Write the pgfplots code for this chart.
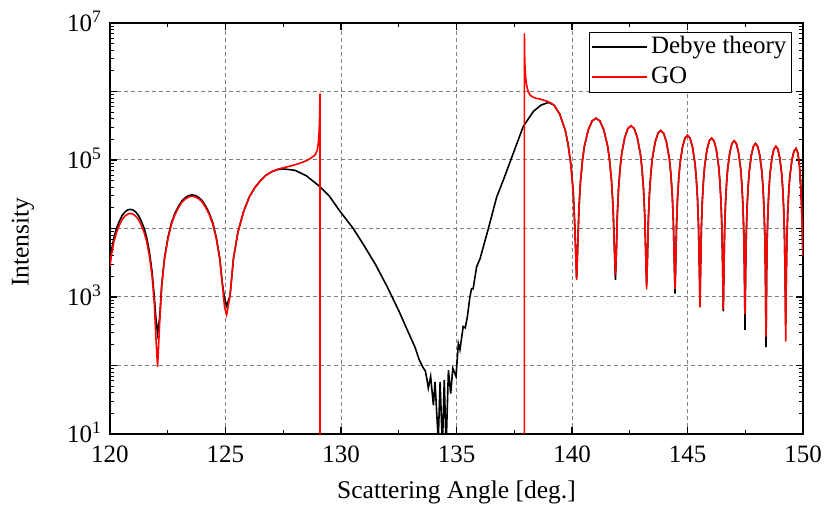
\documentclass[border=0pt]{standalone}
\usepackage{fontspec}
\setmainfont{Liberation Serif}
\usepackage{pgfplots}
\usepackage{pgfplotstable}
\pgfplotsset{compat=1.18}

% x = scattering angle, ly = log10(intensity)
\pgfplotstableread{
x ly
120.000 3.47
120.054 3.66
120.172 3.87
120.290 4.01
120.408 4.11
120.526 4.19
120.644 4.24
120.762 4.27
120.880 4.28
120.998 4.27
121.116 4.24
121.234 4.19
121.352 4.11
121.470 4.01
121.588 3.87
121.706 3.66
121.824 3.36
121.918 3.00
121.989 2.68
122.060 2.47
122.150 2.70
122.239 3.18
122.359 3.57
122.509 3.87
122.658 4.08
122.808 4.22
122.957 4.32
123.107 4.40
123.256 4.45
123.406 4.48
123.555 4.49
123.705 4.48
123.854 4.45
124.004 4.40
124.153 4.32
124.303 4.22
124.452 4.08
124.602 3.87
124.751 3.57
124.871 3.18
124.960 2.98
125.050 2.87
125.197 3.02
125.344 3.56
125.540 3.95
125.785 4.25
126.030 4.46
126.275 4.60
126.520 4.70
126.765 4.78
127.010 4.83
127.255 4.86
127.500 4.87
128.000 4.85
128.500 4.77
129.090 4.61
129.500 4.47
129.960 4.25
130.530 4.00
131.000 3.75
131.500 3.47
132.000 3.15
132.500 2.80
133.000 2.42
133.200 2.27
133.390 2.08
133.550 1.97
133.650 1.92
133.720 1.80
133.780 1.67
133.880 1.84
134.000 1.42
134.070 1.76
134.210 0.90
134.290 1.76
134.390 0.80
134.470 1.79
134.550 0.80
134.650 1.93
134.750 1.59
134.840 1.96
134.980 1.84
135.080 2.32
135.150 2.23
135.290 2.57
135.380 2.55
135.470 2.71
135.580 3.00
135.650 3.12
135.720 3.12
135.870 3.44
136.020 3.56
136.200 3.78
136.380 4.00
136.740 4.46
137.030 4.71
137.460 5.10
137.890 5.49
138.330 5.71
138.650 5.80
138.980 5.84
139.224 5.80
139.468 5.67
139.712 5.43
139.834 5.22
139.956 4.92
140.054 4.53
140.127 3.99
140.200 3.27
140.250 3.76
140.301 4.30
140.368 4.69
140.452 4.99
140.536 5.20
140.704 5.44
140.872 5.57
141.040 5.61
141.208 5.57
141.376 5.44
141.544 5.20
141.628 4.99
141.712 4.69
141.779 4.30
141.830 3.76
141.880 3.25
141.920 3.65
141.961 4.19
142.015 4.58
142.083 4.88
142.150 5.09
142.285 5.33
142.420 5.46
142.555 5.50
142.690 5.46
142.825 5.33
142.960 5.09
143.028 4.88
143.095 4.58
143.149 4.19
143.190 3.65
143.230 3.18
143.267 3.58
143.304 4.12
143.353 4.51
143.415 4.81
143.476 5.02
143.599 5.26
143.722 5.39
143.845 5.43
143.968 5.39
144.091 5.26
144.214 5.02
144.276 4.81
144.337 4.51
144.386 4.12
144.423 3.58
144.460 3.05
144.492 3.51
144.525 4.05
144.568 4.44
144.622 4.74
144.676 4.95
144.784 5.19
144.892 5.32
145.000 5.36
145.108 5.32
145.216 5.19
145.324 4.95
145.378 4.74
145.432 4.44
145.475 4.05
145.508 3.51
145.540 2.95
145.570 3.47
145.601 4.01
145.641 4.40
145.692 4.70
145.742 4.91
145.843 5.15
145.944 5.28
146.045 5.32
146.146 5.28
146.247 5.15
146.348 4.91
146.399 4.70
146.449 4.40
146.489 4.01
146.520 3.47
146.550 2.79
146.578 3.43
146.606 3.97
146.644 4.36
146.691 4.66
146.738 4.87
146.832 5.11
146.926 5.24
147.020 5.28
147.114 5.24
147.208 5.11
147.302 4.87
147.349 4.66
147.396 4.36
147.434 3.97
147.462 3.43
147.490 2.52
147.517 3.39
147.545 3.93
147.581 4.32
147.627 4.62
147.672 4.83
147.763 5.07
147.854 5.20
147.945 5.24
148.036 5.20
148.127 5.07
148.218 4.83
148.264 4.62
148.309 4.32
148.345 3.93
148.373 3.39
148.400 2.27
148.426 3.35
148.451 3.89
148.485 4.28
148.528 4.58
148.570 4.79
148.655 5.03
148.740 5.16
148.825 5.20
148.910 5.16
148.995 5.03
149.080 4.79
149.123 4.58
149.165 4.28
149.199 3.89
149.225 3.35
149.250 2.60
149.277 3.32
149.304 3.86
149.340 4.25
149.385 4.55
149.430 4.76
149.520 5.00
149.610 5.13
149.700 5.17
149.780 5.10
149.850 4.90
149.900 4.62
149.940 4.32
149.970 3.95
150.000 3.60
}\debye

\pgfplotstableread{
x ly
120.000 3.45
120.054 3.60
120.172 3.81
120.290 3.95
120.408 4.05
120.526 4.13
120.644 4.18
120.762 4.21
120.880 4.22
120.998 4.21
121.116 4.18
121.234 4.13
121.352 4.05
121.470 3.95
121.588 3.81
121.706 3.60
121.824 3.30
121.918 2.91
121.989 2.40
122.060 1.98
122.150 2.62
122.239 3.16
122.359 3.55
122.509 3.85
122.658 4.06
122.808 4.20
122.957 4.30
123.107 4.38
123.256 4.43
123.406 4.46
123.555 4.47
123.705 4.46
123.854 4.43
124.004 4.38
124.153 4.30
124.303 4.20
124.452 4.06
124.602 3.85
124.751 3.55
124.871 3.16
124.960 2.85
125.050 2.74
125.197 3.02
125.344 3.56
125.540 3.95
125.785 4.25
126.030 4.46
126.275 4.60
126.520 4.70
126.765 4.78
127.010 4.83
127.300 4.87
127.790 4.91
128.200 4.95
128.510 4.99
128.700 5.03
128.870 5.07
128.970 5.14
129.020 5.25
129.050 5.40
129.070 5.58
129.080 5.75
129.090 5.97
129.090 0.50
}\goleft

\pgfplotstableread{
x ly
137.940 0.50
137.940 6.85
137.945 6.60
137.960 6.40
137.990 6.22
138.030 6.10
138.100 6.00
138.180 5.95
138.300 5.92
138.450 5.90
138.610 5.89
138.800 5.87
138.980 5.85
139.100 5.83
139.224 5.80
139.468 5.67
139.712 5.43
139.834 5.22
139.956 4.92
140.054 4.53
140.127 3.99
140.200 3.25
140.250 3.76
140.301 4.30
140.368 4.69
140.452 4.99
140.536 5.20
140.704 5.44
140.872 5.57
141.040 5.61
141.208 5.57
141.376 5.44
141.544 5.20
141.628 4.99
141.712 4.69
141.779 4.30
141.830 3.76
141.880 3.32
141.920 3.65
141.961 4.19
142.015 4.58
142.083 4.88
142.150 5.09
142.285 5.33
142.420 5.46
142.555 5.50
142.690 5.46
142.825 5.33
142.960 5.09
143.028 4.88
143.095 4.58
143.149 4.19
143.190 3.65
143.230 3.11
143.267 3.58
143.304 4.12
143.353 4.51
143.415 4.81
143.476 5.02
143.599 5.26
143.722 5.39
143.845 5.43
143.968 5.39
144.091 5.26
144.214 5.02
144.276 4.81
144.337 4.51
144.386 4.12
144.423 3.58
144.460 3.12
144.492 3.51
144.525 4.05
144.568 4.44
144.622 4.74
144.676 4.95
144.784 5.19
144.892 5.32
145.000 5.36
145.108 5.32
145.216 5.19
145.324 4.95
145.378 4.74
145.432 4.44
145.475 4.05
145.508 3.51
145.540 2.85
145.570 3.47
145.601 4.01
145.641 4.40
145.692 4.70
145.742 4.91
145.843 5.15
145.944 5.28
146.045 5.32
146.146 5.28
146.247 5.15
146.348 4.91
146.399 4.70
146.449 4.40
146.489 4.01
146.520 3.47
146.550 2.82
146.578 3.43
146.606 3.97
146.644 4.36
146.691 4.66
146.738 4.87
146.832 5.11
146.926 5.24
147.020 5.28
147.114 5.24
147.208 5.11
147.302 4.87
147.349 4.66
147.396 4.36
147.434 3.97
147.462 3.43
147.490 2.75
147.517 3.39
147.545 3.93
147.581 4.32
147.627 4.62
147.672 4.83
147.763 5.07
147.854 5.20
147.945 5.24
148.036 5.20
148.127 5.07
148.218 4.83
148.264 4.62
148.309 4.32
148.345 3.93
148.373 3.39
148.400 2.42
148.426 3.35
148.451 3.89
148.485 4.28
148.528 4.58
148.570 4.79
148.655 5.03
148.740 5.16
148.825 5.20
148.910 5.16
148.995 5.03
149.080 4.79
149.123 4.58
149.165 4.28
149.199 3.89
149.225 3.35
149.250 2.35
149.277 3.32
149.304 3.86
149.340 4.25
149.385 4.55
149.430 4.76
149.520 5.00
149.610 5.13
149.700 5.17
149.780 5.10
149.850 4.90
149.900 4.62
149.940 4.32
149.970 3.95
150.000 3.60
}\goright

\begin{document}
\begin{tikzpicture}
\useasboundingbox (-110pt,-85pt) rectangle (717pt,434pt);
\begin{axis}[
  at={(0pt,0pt)}, anchor=south west,
  width=693pt, height=411pt, scale only axis,
  xmin=120, xmax=150, ymin=10, ymax=1e7,
  ymode=log,
  enlargelimits=false,
  xtick={120,125,130,135,140,145,150},
  xticklabels={120,125,130,135,140,145,150},
  minor xtick={122.5,127.5,132.5,137.5,142.5,147.5},
  ytick={1e1,1e2,1e3,1e4,1e5,1e6,1e7},
  yticklabels={10\textsuperscript{1},,10\textsuperscript{3},,10\textsuperscript{5},,10\textsuperscript{7}},
  minor ytick={20,30,40,50,60,70,80,90,200,300,400,500,600,700,800,900,2000,3000,4000,5000,6000,7000,8000,9000,20000,30000,40000,50000,60000,70000,80000,90000,200000,300000,400000,500000,600000,700000,800000,900000,2000000,3000000,4000000,5000000,6000000,7000000,8000000,9000000},
  tick align=inside,
  major tick length=7pt,
  minor tick length=4pt,
  every tick/.style={black, line width=1.2pt},
  axis line style={line width=1.5pt},
  xmajorgrids, ymajorgrids,
  grid style={gray, line width=1pt, dash pattern=on 4pt off 3pt},
  tick label style={font=\fontsize{25}{29}\selectfont},
  xticklabel style={anchor=base, yshift=-29pt},
  yticklabel style={anchor=base east, yshift=-8.5pt, xshift=-5pt},
  label style={font=\fontsize{25.5}{29}\selectfont},
  xlabel={Scattering Angle [deg.]},
  ylabel={Intensity},
  xlabel style={at={(axis description cs:0.5,0)}, anchor=base, yshift=-65pt},
  ylabel style={at={(axis description cs:-0.1255,0.467)}, anchor=center},
  legend style={at={(rel axis cs:0.984,0.979)}, anchor=north east,
    draw=black, line width=1pt, font=\fontsize{25}{29}\selectfont,
    inner xsep=2pt, inner ysep=2pt, row sep=4pt,
    nodes={inner xsep=3pt, inner ysep=1pt, text height=18pt, text depth=6pt}},
  legend cell align=left,
  legend image code/.code={\draw[#1] (0pt,0pt) -- (55pt,0pt);},
]
\addplot[black, line width=1.6pt] table[x=x, y expr=10^\thisrow{ly}] {\debye};
\addlegendentry{Debye theory}
\addplot[red, line width=1.6pt] table[x=x, y expr=10^\thisrow{ly}] {\goleft};
\addlegendentry{GO}
\addplot[red, line width=1.6pt, forget plot] table[x=x, y expr=10^\thisrow{ly}] {\goright};
\end{axis}
\end{tikzpicture}
\end{document}
